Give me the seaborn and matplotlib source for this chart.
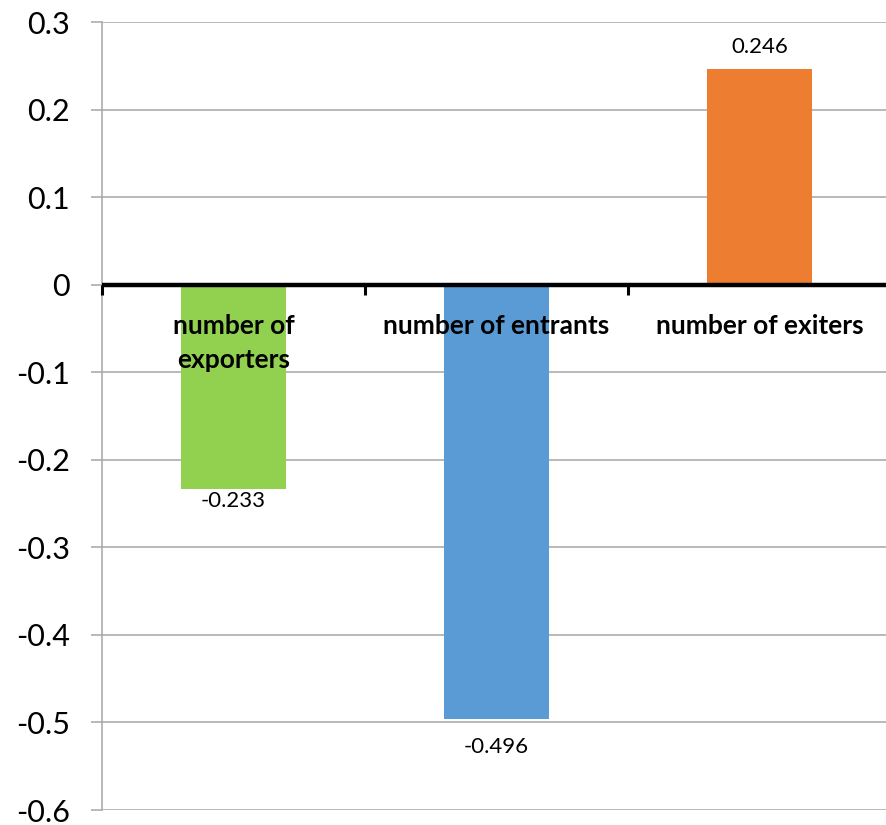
import matplotlib
matplotlib.use("Agg")
import matplotlib.pyplot as plt
import seaborn as sns
import pandas as pd

categories = ["number of\nexporters", "number of entrants", "number of exiters"]
values = [-0.233, -0.496, 0.246]
value_labels = ["-0.233", "-0.496", "0.246"]
colors = ["#92D050", "#5B9BD5", "#ED7D31"]
y_ticks = [0.3, 0.2, 0.1, 0, -0.1, -0.2, -0.3, -0.4, -0.5, -0.6]
y_tick_labels = ["0.3", "0.2", "0.1", "0", "-0.1", "-0.2", "-0.3", "-0.4", "-0.5", "-0.6"]

sns.set_style("white")
plt.rcParams["font.family"] = ["Lato", "DejaVu Sans"]

df = pd.DataFrame({"category": categories, "value": values})

fig = plt.figure(figsize=(8.86, 8.25), dpi=100)
ax = fig.add_axes([102 / 886, 15 / 825, 789 / 886, 788 / 825])

sns.barplot(data=df, x="category", y="value", hue="category",
            palette=colors, width=0.4, legend=False, ax=ax,
            saturation=1, edgecolor="none")

ax.set_ylim(-0.6, 0.3)
ax.set_xlim(-0.5, 2.5)
ax.set_yticks(y_ticks)
ax.set_yticklabels(y_tick_labels, fontsize=22, color="black")
ax.yaxis.grid(True, color="#A6A6A6", linewidth=1.1)
ax.set_axisbelow(True)
ax.tick_params(axis="y", length=8, width=1.1, color="#A6A6A6", pad=15,
               direction="out", left=True)
ax.set_xticks([])
ax.set_xlabel("")
ax.set_ylabel("")

for side in ["top", "right", "bottom"]:
    ax.spines[side].set_visible(False)
ax.spines["left"].set_color("#A6A6A6")
ax.spines["left"].set_linewidth(1.1)

# Horizontal category axis drawn at zero, with small ticks between categories
ax.axhline(0, color="black", linewidth=3.2, zorder=5)
for xb in [-0.5, 0.5, 1.5]:
    ax.plot([xb, xb], [0, -0.012], color="black", linewidth=2.2,
            zorder=5, clip_on=False, solid_capstyle="butt")

# Category names just under the zero line
for i, name in enumerate(categories):
    ax.text(i, -0.033, name, ha="center", va="top", fontsize=19,
            fontweight="bold", color="black", linespacing=1.5, zorder=6)

# Value labels at bar ends (gap in points from the bar end)
label_gaps = [2, 13, 9]
for i, (v, lab, gap) in enumerate(zip(values, value_labels, label_gaps)):
    if v >= 0:
        ax.annotate(lab, (i, v), xytext=(0, gap), textcoords="offset points",
                    ha="center", va="bottom", fontsize=16, color="black")
    else:
        ax.annotate(lab, (i, v), xytext=(0, -gap), textcoords="offset points",
                    ha="center", va="top", fontsize=16, color="black")

fig.savefig("out.png", dpi=100)
